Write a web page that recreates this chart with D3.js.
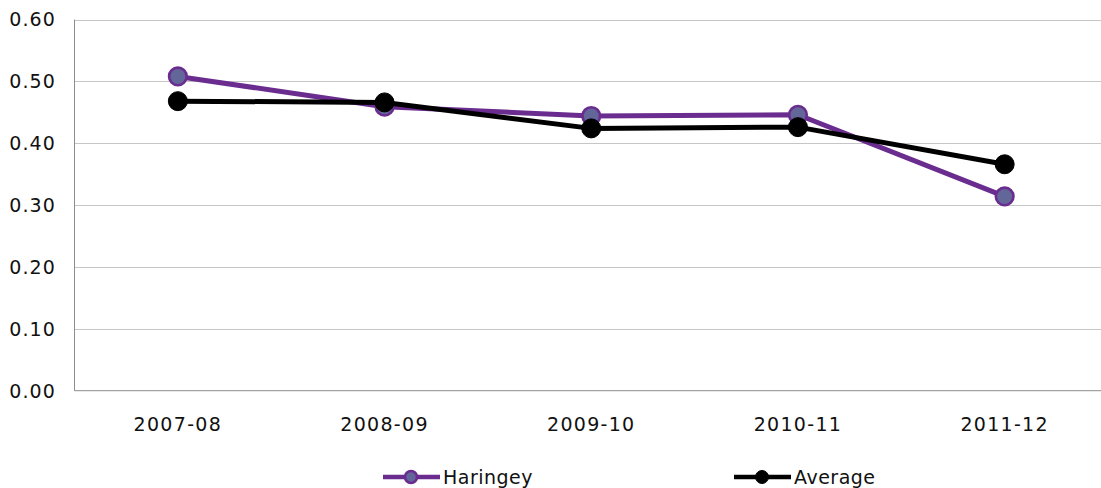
<!DOCTYPE html>
<html><head><meta charset="utf-8">
<script src="https://cdn.jsdelivr.net/npm/d3@7"></script>
<style>
html,body{margin:0;padding:0;background:#fff;}
text{font-family:"DejaVu Sans",Verdana,sans-serif;fill:#111;}
</style></head>
<body><svg id="c" width="1101" height="488"></svg>
<script>
const categories = ["2007-08","2008-09","2009-10","2010-11","2011-12"];
const haringey = [0.508, 0.459, 0.444, 0.446, 0.314];
const average  = [0.468, 0.466, 0.424, 0.426, 0.366];
const yTicks = [0,0.1,0.2,0.3,0.4,0.5,0.6];
const seriesNames = ["Haringey","Average"];

(function(){
const svg = d3.select("#c");
const pl = 74.5, pr = 1108, pt = 19.5, pb = 390.7;
const x = d3.scaleBand().domain(categories).range([pl, pr]);
const y = d3.scaleLinear().domain([0,0.6]).range([pb, pt]);

svg.append("g").selectAll("line").data(yTicks.filter(d=>d>0)).join("line")
  .attr("x1", pl).attr("x2", pr)
  .attr("y1", d=>Math.round(y(d))+0.5).attr("y2", d=>Math.round(y(d))+0.5)
  .attr("stroke","#c6c6c6").attr("stroke-width",1);

svg.append("line").attr("x1",pl).attr("x2",pl).attr("y1",pt).attr("y2",pb)
  .attr("stroke","#8c8c8c").attr("stroke-width",1);
svg.append("line").attr("x1",pl).attr("x2",pr).attr("y1",pb).attr("y2",pb)
  .attr("stroke","#8c8c8c").attr("stroke-width",1);

svg.append("g").selectAll("text").data(yTicks).join("text")
  .attr("x", 56).attr("y", d=>y(d)).attr("dy","0.36em")
  .attr("text-anchor","end").attr("font-size",19).attr("letter-spacing","1.1px")
  .text(d=>d3.format(".2f")(d));

svg.append("g").selectAll("text").data(categories).join("text")
  .attr("x", d=>x(d)+x.bandwidth()/2).attr("y", 431)
  .attr("text-anchor","middle").attr("font-size",19).attr("letter-spacing","1.3px")
  .text(d=>d);

const line = d3.line().x((d,i)=>x(categories[i])+x.bandwidth()/2).y(d=>y(d));

function drawSeries(vals, color, fill, r, sw){
  svg.append("path").datum(vals).attr("d", line).attr("fill","none")
    .attr("stroke", color).attr("stroke-width",5).attr("stroke-linejoin","round");
  svg.append("g").selectAll("circle").data(vals).join("circle")
    .attr("cx",(d,i)=>x(categories[i])+x.bandwidth()/2).attr("cy",d=>y(d))
    .attr("r",r).attr("fill",fill).attr("stroke",color).attr("stroke-width",sw);
}
drawSeries(haringey, "#6a2c8f", "#636699", 8.8, 2.6);
drawSeries(average, "#000000", "#000000", 9.5, 1);

const legend = [
  {name: seriesNames[0], color:"#6a2c8f", fill:"#636699", x0:383, sw:2.5, r:6},
  {name: seriesNames[1], color:"#000000", fill:"#000000", x0:734, sw:1, r:6.5}
];
const ly = 477;
legend.forEach(l=>{
  svg.append("line").attr("x1",l.x0).attr("x2",l.x0+57).attr("y1",ly).attr("y2",ly)
    .attr("stroke",l.color).attr("stroke-width",4.5);
  svg.append("circle").attr("cx",l.x0+28).attr("cy",ly).attr("r",l.r)
    .attr("fill",l.fill).attr("stroke",l.color).attr("stroke-width",l.sw);
  svg.append("text").attr("x",l.x0+60).attr("y",ly).attr("dy","0.36em")
    .attr("font-size",19).attr("letter-spacing","0.5px").text(l.name);
});
})();
</script></body></html>
